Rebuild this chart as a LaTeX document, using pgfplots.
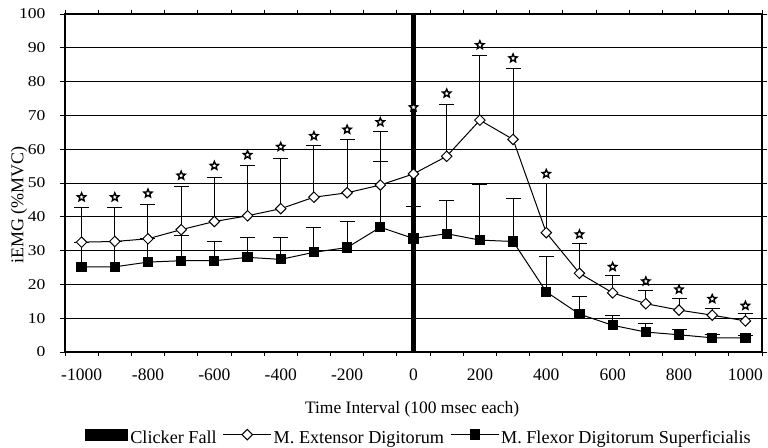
\documentclass[border=0pt]{standalone}
\usepackage{fontspec}
\setmainfont{Liberation Serif}
\newfontfamily\ytf{Liberation Serif}[FakeStretch=1.17]
\usepackage{pgfplots}
\usepackage{pgfplotstable}
\pgfplotsset{compat=1.18}

% open five-pointed star used for the significance marks
\pgfdeclareplotmark{ostar}{%
  \pgfpathmoveto{\pgfpointpolar{90}{\pgfplotmarksize}}%
  \pgfpathlineto{\pgfpointpolar{126}{0.45\pgfplotmarksize}}%
  \pgfpathlineto{\pgfpointpolar{162}{\pgfplotmarksize}}%
  \pgfpathlineto{\pgfpointpolar{198}{0.45\pgfplotmarksize}}%
  \pgfpathlineto{\pgfpointpolar{234}{\pgfplotmarksize}}%
  \pgfpathlineto{\pgfpointpolar{270}{0.45\pgfplotmarksize}}%
  \pgfpathlineto{\pgfpointpolar{306}{\pgfplotmarksize}}%
  \pgfpathlineto{\pgfpointpolar{342}{0.45\pgfplotmarksize}}%
  \pgfpathlineto{\pgfpointpolar{18}{\pgfplotmarksize}}%
  \pgfpathlineto{\pgfpointpolar{54}{0.45\pgfplotmarksize}}%
  \pgfpathclose
  \pgfusepathqfillstroke
}

% x: time interval, ext/flex: mean iEMG, *err: upper SD, star: position of the mark
\pgfplotstableread{
x     ext  exterr flex flexerr star
-1000 32.5 10.3   25.2  7.3    45.8
-900  32.7 10.1   25.2  7.5    45.8
-800  33.5 10.2   26.6  6.9    46.9
-700  36.2 12.7   27.0  7.4    52.2
-600  38.6 13.0   27.0  5.8    55.1
-500  40.3 14.8   28.0  5.8    58.3
-400  42.4 14.9   27.4  6.4    60.7
-300  45.8 15.2   29.5  7.2    63.9
-200  47.1 15.9   30.9  7.7    65.8
-100  49.4 15.8   36.9  19.4   68.0
0     52.7 17.2   33.6  9.4    72.4
100   57.9 15.4   35.0  9.7    76.5
200   68.6 19.2   33.1  16.6   90.8
300   62.9 21.1   32.7  12.6   86.9
400   35.3 14.6   17.8  10.4   52.7
500   23.3  8.9   11.2  5.2    34.8
600   17.5  5.0    7.9  2.9    25.2
700   14.3  3.8    5.9  2.6    20.9
800   12.4  3.3    5.1  1.5    18.5
900   10.9  2.0    4.2  1.0    15.7
1000   9.2  2.1    4.2  0.8    13.7
}\emgdata

\pgfplotsset{
  lineleg/.style={legend image code/.code={%
    \draw[mark repeat=2,mark phase=2,##1] plot coordinates {(0bp,5bp) (24bp,5bp) (48bp,5bp)};}},
  barleg/.style={legend image code/.code={%
    \fill[black] (0bp,-1bp) rectangle (43bp,11bp);}},
  errs/.style={error bars/.cd, y dir=plus, y explicit,
    error bar style={black, line width=1bp},
    error mark options={rotate=90, black, line width=1bp, mark size=7.5bp}},
}

\begin{document}
\begin{tikzpicture}
\useasboundingbox (-65bp,-96bp) rectangle (703bp,352bp);
\begin{axis}[
    at={(0,0)}, anchor=south west,
    scale only axis, width=697bp, height=338bp,
    xmin=-1050, xmax=1050, ymin=0, ymax=100,
    xtick={-1000,-800,...,1000},
    xticklabels={-1000,-800,-600,-400,-200,0,200,400,600,800,1000},
    minor xtick={-1050,-950,...,1050},
    ytick={0,10,...,100},
    /pgf/number format/assume math mode=true,
    /pgf/number format/1000 sep={},
    tick align=outside,
    major tick length=5bp, minor tick length=4bp,
    major x tick style={draw=none},
    tick style={black, line width=0.9bp},
    axis line style={black, line width=1.2bp},
    ymajorgrids, grid style={black, line width=0.8bp},
    xticklabel style={font=\fontsize{17.5bp}{20bp}\selectfont, anchor=base, yshift=-23bp},
    yticklabel style={font=\ytf\fontsize{15bp}{18bp}\selectfont, anchor=east, xshift=-11bp},
    xlabel={Time Interval (100 msec each)},
    xlabel style={font=\fontsize{17.5bp}{20bp}\selectfont, at={(axis description cs:0.498,-0.1805)}, anchor=base},
    ylabel={iEMG (\%MVC)},
    ylabel style={font=\fontsize{18bp}{20bp}\selectfont, at={(axis description cs:-0.066,0.435)}, anchor=center},
    legend columns=-1,
    legend style={at={(axis description cs:0.508,-0.258)}, anchor=center,
      draw=none, fill=none, inner sep=0pt,
      font=\fontsize{18.2bp}{20bp}\selectfont,
      nodes={inner sep=2bp, text height=12.5bp, text depth=4bp},
      /tikz/every even column/.append style={column sep=4bp}},
]
\addplot[ybar, fill=black, draw=none, bar width=4.7bp, bar shift=0pt, barleg]
  coordinates {(0,100)};
\addlegendentry{Clicker Fall}

\addplot[black, line width=1bp, lineleg,
    mark=square*, mark size=3.7bp, mark options={rotate=45, fill=white, draw=black, line width=1bp},
    errs]
  table[x=x, y=ext, y error=exterr]{\emgdata};
\addlegendentry{M. Extensor Digitorum}

\addplot[black, line width=1bp, lineleg,
    mark=square*, mark size=4.6bp, mark options={fill=black, draw=black},
    errs]
  table[x=x, y=flex, y error=flexerr]{\emgdata};
\addlegendentry{M. Flexor Digitorum Superficialis}

\addplot[only marks, forget plot, mark=ostar, mark size=4.3bp,
    mark options={fill=white, draw=black, line width=1.4bp}]
  table[x=x, y=star]{\emgdata};
\end{axis}
\end{tikzpicture}
\end{document}
